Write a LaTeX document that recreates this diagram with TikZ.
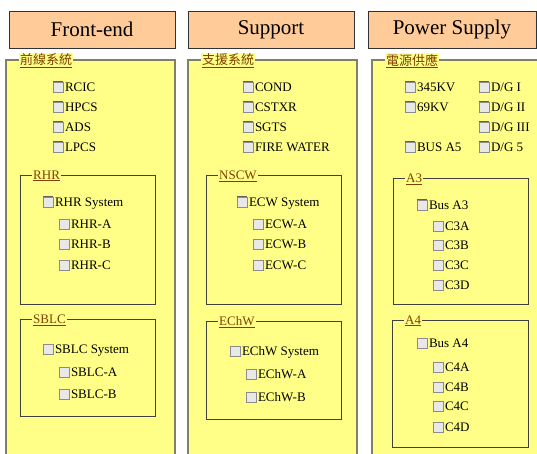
\documentclass[tikz,border=0pt]{standalone}
\usepackage{fontspec}
\setmainfont{Liberation Serif}
\newfontfamily\cjk{Noto Sans CJK TC}

\definecolor{panelfill}{RGB}{255,255,136}
\definecolor{hdrfill}{RGB}{255,204,153}
\definecolor{hdrline}{RGB}{50,50,50}
\definecolor{panelline}{RGB}{128,128,104}
\definecolor{boxline}{RGB}{64,64,64}
\definecolor{legendtext}{RGB}{128,64,0}
\definecolor{chkfill}{RGB}{232,232,232}
\definecolor{chkline}{RGB}{140,140,140}
\definecolor{chkdark}{RGB}{96,96,96}

\tikzset{
  header/.style={draw=hdrline, fill=hdrfill, line width=0.8pt, inner sep=0pt,
    font=\fontsize{21pt}{24pt}\selectfont},
  panel/.style={draw=panelline, fill=panelfill, line width=1.6pt},
  group/.style={draw=boxline, line width=0.9pt},
  legend/.style={fill=panelfill, text=legendtext, inner sep=1pt, anchor=west,
    font=\fontsize{13pt}{15pt}\selectfont},
  chk/.style={draw=chkline, fill=chkfill, minimum size=10pt, inner sep=0pt, line width=0.6pt,
    path picture={\draw[chkdark, line width=1.2pt]
      (path picture bounding box.south west) -- (path picture bounding box.north west)
      -- (path picture bounding box.north east);}},
  lbl/.style={anchor=west, inner sep=0pt, xshift=1.5pt, text height=8.6pt, text depth=0pt,
    font=\fontsize{13pt}{15pt}\selectfont}
}

% checkbox followed by its caption: name, left edge of box, vertical centre, caption
\newcommand\cbitem[4]{%
  \node[chk] (#1-box) at (#2+5,#3) {};
  \node[lbl] (#1) at (#1-box.east) {#4};}

\begin{document}
\begin{tikzpicture}[x=1pt,y=-1pt]
\useasboundingbox[fill=white] (0,0) rectangle (537,454);

% ---- column headers
\node[header, minimum width=166pt, minimum height=37pt] (hfront) at (92,29.5) {Front-end};
\node[header, minimum width=166pt, minimum height=37pt] (hsupport) at (271,29.5) {Support};
\node[header, minimum width=168pt, minimum height=37pt] (hpower) at (452,29.5) {Power Supply};

% ---- column panels (run past the lower edge)
\draw[panel] (6,60) rectangle (175,480);
\draw[panel] (188,60) rectangle (357,480);
\draw[panel] (372,60) rectangle (540,480);

% ---- inner groups
\draw[group] (20,175) rectangle (155,304);
\draw[group] (20,319) rectangle (155,416);
\draw[group] (206,175) rectangle (341,304);
\draw[group] (206,321) rectangle (341,419);
\draw[group] (393,178) rectangle (528,304);
\draw[group] (392,320) rectangle (528,447);

% ---- titles on the borders
\node[legend] (tfront) at (19,61) {\cjk\underline{前線系統}};
\node[legend] (tsupport) at (201,61) {\cjk\underline{支援系統}};
\node[legend] (tpower) at (385,61) {\cjk\underline{電源供應}};
\node[legend] (trhr) at (32,176) {\underline{RHR}};
\node[legend] (tsblc) at (32,320) {\underline{SBLC}};
\node[legend] (tnscw) at (218,176) {\underline{NSCW}};
\node[legend] (techw) at (218,322) {\underline{EChW}};
\node[legend] (ta3) at (405,179) {\underline{A3}};
\node[legend] (ta4) at (404,321) {\underline{A4}};

% ---- Front-end
\cbitem{rcic}{53}{87}{RCIC}
\cbitem{hpcs}{53}{107}{HPCS}
\cbitem{ads}{53}{127}{ADS}
\cbitem{lpcs}{53}{147}{LPCS}
\cbitem{rhrsys}{43}{202}{RHR System}
\cbitem{rhra}{59}{224}{RHR-A}
\cbitem{rhrb}{59}{244}{RHR-B}
\cbitem{rhrc}{59}{265}{RHR-C}
\cbitem{sblcsys}{43}{349}{SBLC System}
\cbitem{sblca}{59}{372}{SBLC-A}
\cbitem{sblcb}{59}{394}{SBLC-B}

% ---- Support
\cbitem{cond}{243}{87}{COND}
\cbitem{cstxr}{243}{107}{CSTXR}
\cbitem{sgts}{243}{127}{SGTS}
\cbitem{firew}{243}{147}{FIRE WATER}
\cbitem{ecwsys}{237}{202}{ECW System}
\cbitem{ecwa}{253}{224}{ECW-A}
\cbitem{ecwb}{253}{244}{ECW-B}
\cbitem{ecwc}{253}{265}{ECW-C}
\cbitem{echwsys}{230}{351}{EChW System}
\cbitem{echwa}{246}{374}{EChW-A}
\cbitem{echwb}{246}{397}{EChW-B}

% ---- Power Supply
\cbitem{kv345}{405}{87}{345KV}
\cbitem{kv69}{405}{107}{69KV}
\cbitem{busa5}{405}{147}{BUS A5}
\cbitem{dg1}{479}{87}{D/G I}
\cbitem{dg2}{479}{107}{D/G II}
\cbitem{dg3}{479}{127}{D/G III}
\cbitem{dg5}{479}{147}{D/G 5}
\cbitem{busa3}{417}{205}{Bus A3}
\cbitem{c3a}{433}{226}{C3A}
\cbitem{c3b}{433}{245}{C3B}
\cbitem{c3c}{433}{265}{C3C}
\cbitem{c3d}{433}{285}{C3D}
\cbitem{busa4}{417}{343}{Bus A4}
\cbitem{c4a}{433}{367}{C4A}
\cbitem{c4b}{433}{387}{C4B}
\cbitem{c4c}{433}{406}{C4C}
\cbitem{c4d}{433}{427}{C4D}
\end{tikzpicture}
\end{document}
